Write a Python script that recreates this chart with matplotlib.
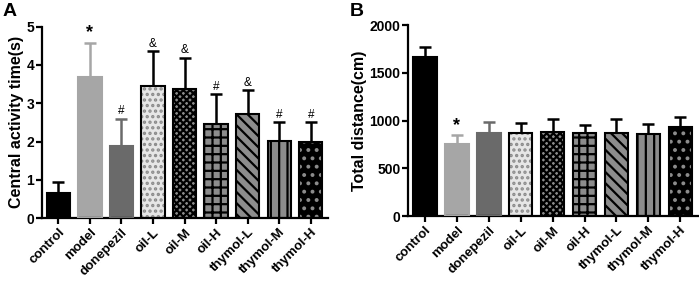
import matplotlib
matplotlib.use("Agg")
import matplotlib.pyplot as plt
import numpy as np

groups = ["control", "model", "donepezil", "oil-L", "oil-M", "oil-H",
          "thymol-L", "thymol-M", "thymol-H"]
central_mean = [0.66, 3.69, 1.88, 3.45, 3.37, 2.47, 2.71, 2.02, 2.00]
central_err = [0.27, 0.89, 0.72, 0.91, 0.82, 0.77, 0.63, 0.48, 0.50]
central_sig = ["", "*", "#", "&", "&", "#", "&", "#", "#"]
dist_mean = [1666, 753, 871, 865, 882, 865, 871, 858, 934]
dist_err = [105, 94, 109, 111, 129, 87, 140, 104, 98]
dist_sig = ["", "*", "", "", "", "", "", "", ""]

plt.rcParams['font.family'] = ['Liberation Sans', 'DejaVu Sans']
plt.rcParams['font.weight'] = 'bold'
plt.rcParams['hatch.linewidth'] = 1.6

# styles: face, hatch, hatch color, edge color
styles = [
    ("#000000", None, None, "#000000"),
    ("#a6a6a6", None, None, "#a6a6a6"),
    ("#6a6a6a", None, None, "#6a6a6a"),
    ("#e6e6e6", "...", "#8a8a8a", "#000000"),
    ("#8c8c8c", "xxxxx", "#000000", "#000000"),
    ("#8c8c8c", "++", "#000000", "#000000"),
    ("#8c8c8c", "\\\\\\", "#000000", "#000000"),
    ("#8c8c8c", "||", "#000000", "#000000"),
    ("#000000", "..", "#8c8c8c", "#000000"),
]

fig = plt.figure(figsize=(6.99, 2.81), dpi=100)
axA = fig.add_axes([0.060, 0.224, 0.409, 0.681])
axB = fig.add_axes([0.584, 0.231, 0.414, 0.680])

def draw(ax, means, errs, sigs, ylim, yticks, ylabel, sigoff):
    x = np.arange(len(groups))
    w = 0.74
    for i in range(len(groups)):
        face, hatch, hcol, ecol = styles[i]
        if hatch:
            ax.bar(x[i], means[i], w, color=face, hatch=hatch, edgecolor=hcol,
                   linewidth=0, zorder=2)
        else:
            ax.bar(x[i], means[i], w, color=face, linewidth=0, zorder=2)
        ax.bar(x[i], means[i], w, fill=False, edgecolor=ecol, linewidth=1.5, zorder=3)
        ax.errorbar(x[i], means[i], yerr=[[0], [errs[i]]], fmt='none',
                    ecolor=ecol, elinewidth=1.8, capsize=4.5, capthick=1.8, zorder=1)
        if sigs[i]:
            if sigs[i] == "*":
                ax.text(x[i], means[i] + errs[i] + sigoff * 0.4, "*", ha='center',
                        va='bottom', fontsize=13, fontweight='bold')
            else:
                ax.text(x[i], means[i] + errs[i] + sigoff * 0.3, sigs[i], ha='center',
                        va='bottom', fontsize=8.5, fontweight='normal')
    ax.set_xlim(-0.52, 8.54)
    ax.set_ylim(*ylim)
    ax.set_yticks(yticks)
    ax.set_xticks(x)
    ax.set_xticklabels(groups, rotation=45, ha='right', rotation_mode='anchor',
                       fontsize=9.5, fontweight='bold')
    for lab in ax.get_yticklabels():
        lab.set_fontsize(10)
        lab.set_fontweight('bold')
    ax.set_ylabel(ylabel, fontsize=11.5, fontweight='bold', labelpad=2)
    for s in ['top', 'right']:
        ax.spines[s].set_visible(False)
    for s in ['left', 'bottom']:
        ax.spines[s].set_linewidth(1.6)
    ax.tick_params(axis='both', width=1.6, length=4, pad=1.5)
    ax.tick_params(axis='x', pad=2)

draw(axA, central_mean, central_err, central_sig, (0, 5), [0, 1, 2, 3, 4, 5],
     "Central activity time(s)", 0.12)
draw(axB, dist_mean, dist_err, dist_sig, (0, 2000), [0, 500, 1000, 1500, 2000],
     "Total distance(cm)", 40)

fig.text(0.004, 0.99, "A", fontsize=14, fontweight='bold', va='top', ha='left')
fig.text(0.500, 0.99, "B", fontsize=14, fontweight='bold', va='top', ha='left')

fig.savefig("out.png", dpi=100)
